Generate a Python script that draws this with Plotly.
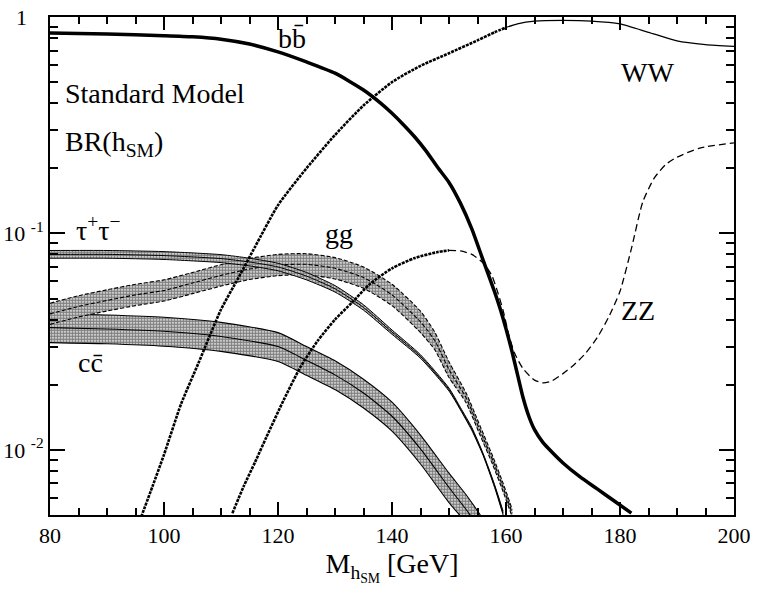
import plotly.graph_objects as go

# ---------------- data ----------------
M_bb = [80, 90, 100, 105, 110, 115, 120, 125, 130, 135, 138, 140, 142, 144, 146, 148, 150, 152, 154, 156,
        158, 159, 160, 161, 162, 163, 164, 165, 166.5, 168, 170, 173, 176, 179, 182]
BR_bb = [0.843, 0.835, 0.82, 0.81, 0.79, 0.75, 0.69, 0.62, 0.55, 0.46, 0.40, 0.359, 0.318, 0.279, 0.24,
         0.202, 0.172, 0.138, 0.105, 0.075, 0.0537, 0.0447, 0.0363, 0.0288, 0.0224, 0.0174, 0.0143, 0.0124,
         0.0108, 0.0098, 0.0087, 0.0075, 0.0066, 0.0058, 0.0051]

M_tau = [80, 90, 100, 110, 115, 120, 125, 130, 135, 140, 145, 150, 152, 154, 156, 158, 159.5]
BR_tau = [0.080, 0.0800, 0.0790, 0.0765, 0.0738, 0.070, 0.0635, 0.0555, 0.0455, 0.035, 0.027, 0.019, 0.0155,
          0.0125, 0.0095, 0.0068, 0.0051]
BR_tau_hi = [0.0834, 0.0834, 0.0824, 0.0798, 0.0768, 0.0728, 0.066, 0.0574, 0.0468, 0.0358, 0.0275, 0.0193,
             0.0157, 0.0127, 0.0096, 0.0069, 0.0052]
BR_tau_lo = [0.0768, 0.0768, 0.0758, 0.0733, 0.0708, 0.0672, 0.061, 0.0536, 0.0442, 0.0342, 0.0265, 0.0187,
             0.0153, 0.0123, 0.0094, 0.0067, 0.0050]

M_cc = [80, 90, 100, 110, 120, 125, 130, 135, 140, 145, 150, 153, 155.5]
BR_cc_hi = [0.0426, 0.042, 0.041, 0.0388, 0.0348, 0.0300, 0.0258, 0.0212, 0.0166, 0.0117, 0.0078, 0.0062, 0.0050]
BR_cc = [0.0367, 0.0362, 0.0353, 0.0334, 0.0300, 0.0259, 0.0222, 0.0183, 0.0143, 0.0101, 0.0067, 0.0053, 0.0043]
BR_cc_lo = [0.0313, 0.0309, 0.0301, 0.0285, 0.0256, 0.0221, 0.0190, 0.0156, 0.0122, 0.0086, 0.0057, 0.0046, 0.0037]

M_gg = [80, 85, 90, 95, 100, 105, 110, 115, 120, 125, 130, 135, 140, 145, 147.5, 150, 153, 155.5, 157.7,
        159.5, 161.1]
BR_gg = [0.0425, 0.046, 0.049, 0.052, 0.0545, 0.059, 0.064, 0.0685, 0.0715, 0.072, 0.069, 0.0625, 0.052,
         0.039, 0.032, 0.0235, 0.0174, 0.0122, 0.0089, 0.0067, 0.0051]
BR_gg_hi = [0.0476, 0.0515, 0.0549, 0.0582, 0.061, 0.066, 0.0717, 0.0767, 0.080, 0.0806, 0.0773, 0.070,
            0.0582, 0.0437, 0.035, 0.0255, 0.0183, 0.0128, 0.0093, 0.0070, 0.0053]
BR_gg_lo = [0.038, 0.0411, 0.0438, 0.0464, 0.0487, 0.0527, 0.0571, 0.0612, 0.0638, 0.0643, 0.0616, 0.0558,
            0.0464, 0.0348, 0.029, 0.0216, 0.0165, 0.0116, 0.0085, 0.0064, 0.0049]

M_ww = [96, 98, 100, 103, 106, 110, 113, 116, 120, 125, 130, 135, 140, 145, 150, 155, 158, 160,
        162, 165, 170, 175, 180, 185, 190, 195, 200]
BR_ww = [0.0049, 0.0068, 0.0095, 0.0163, 0.025, 0.0445, 0.062, 0.087, 0.135, 0.20, 0.285, 0.39, 0.50,
         0.595, 0.68, 0.78, 0.85, 0.895, 0.93, 0.958, 0.965, 0.958, 0.93, 0.85, 0.775, 0.745, 0.732]

M_zz = [112, 114, 116, 118, 121, 124, 127, 130, 133, 136, 140, 144, 148, 150, 152, 154, 156, 157.5,
        158.5, 159.5, 160.5, 161.5, 163, 165, 166.5, 168, 170, 172, 174, 176, 178, 180, 182, 184, 186,
        188, 190, 194, 200]
BR_zz = [0.0051, 0.0068, 0.0088, 0.0115, 0.017, 0.0243, 0.032, 0.040, 0.048, 0.058, 0.069, 0.077, 0.082,
         0.0835, 0.083, 0.080, 0.073, 0.064, 0.054, 0.044, 0.034, 0.028, 0.0237, 0.021, 0.0204, 0.0208,
         0.0225, 0.0248, 0.028, 0.033, 0.041, 0.054, 0.085, 0.14, 0.18, 0.208, 0.225, 0.248, 0.262]

x_ticks = [80, 100, 120, 140, 160, 180, 200]
x_minor = [85, 90, 95, 105, 110, 115, 125, 130, 135, 145, 150, 155, 165, 170, 175, 185, 190, 195]
y_ticks = [0.01, 0.1, 1]
y_ticktext = ["10 <sup>-2</sup>", "10 <sup>-1</sup>", "1\u00a0\u00a0\u00a0"]
y_minor = [0.005, 0.006, 0.007, 0.008, 0.009, 0.02, 0.03, 0.04, 0.05, 0.06, 0.07, 0.08, 0.09,
           0.2, 0.3, 0.4, 0.5, 0.6, 0.7, 0.8, 0.9]

labels = [
    ("Standard Model", 0.019, 0.847, "left"),
    ("BR(h<sub>SM</sub>)", 0.019, 0.746, "left"),
    ("bb\u0304", 0.3545, 0.957, "center"),
    ("\u03c4<sup>+</sup>\u03c4<sup>\u2212</sup>", 0.0709, 0.576, "center"),
    ("cc\u0304", 0.0592, 0.306, "center"),
    ("gg", 0.4225, 0.565, "center"),
    ("WW", 0.8735, 0.8886, "center"),
    ("ZZ", 0.859, 0.4116, "center"),
]

# ---------------- figure ----------------
FONT = "Liberation Serif, Times New Roman, serif"
fig = go.Figure()

PATTERN = dict(shape=".", fgcolor="black", bgcolor="white", size=3, solidity=0.75)
SPL = dict(shape="spline", smoothing=0.6)


def band(x, lo, hi, dash, mid=None, width=1.1):
    xs = list(x) + list(x)[::-1]
    ys = list(hi) + list(lo)[::-1]
    fig.add_trace(go.Scatter(x=xs, y=ys, mode="lines", fill="toself", fillcolor="#8c8c8c",
                             fillpattern=PATTERN, line=dict(width=0, **SPL), hoverinfo="skip",
                             showlegend=False))
    for y in (lo, hi) + ((mid,) if mid is not None else ()):
        fig.add_trace(go.Scatter(x=x, y=y, mode="lines",
                                 line=dict(color="black", width=width, dash=dash, **SPL),
                                 hoverinfo="skip", showlegend=False))


band(M_cc, BR_cc_lo, BR_cc_hi, "solid", BR_cc)
band(M_gg, BR_gg_lo, BR_gg_hi, "4px,2px", BR_gg)
band(M_tau, BR_tau_lo, BR_tau_hi, "solid", BR_tau, width=1.0)

# bb: thick line
fig.add_trace(go.Scatter(x=M_bb, y=BR_bb, mode="lines", line=dict(color="black", width=3.5, **SPL),
                         hoverinfo="skip", showlegend=False))

ROPE = dict(color="black", width=2.6, dash="3px,1px", **SPL)
# WW: textured part up to threshold, then thin solid
i_ww = M_ww.index(160)
fig.add_trace(go.Scatter(x=M_ww[:i_ww + 1], y=BR_ww[:i_ww + 1], mode="lines",
                         line=ROPE, hoverinfo="skip", showlegend=False))
fig.add_trace(go.Scatter(x=M_ww[i_ww:], y=BR_ww[i_ww:], mode="lines",
                         line=dict(color="black", width=1.3, **SPL), hoverinfo="skip", showlegend=False))

# ZZ: textured part then dashed
i_zz = M_zz.index(150)
fig.add_trace(go.Scatter(x=M_zz[:i_zz + 1], y=BR_zz[:i_zz + 1], mode="lines",
                         line=ROPE, hoverinfo="skip", showlegend=False))
fig.add_trace(go.Scatter(x=M_zz[i_zz:], y=BR_zz[i_zz:], mode="lines",
                         line=dict(color="black", width=1.3, dash="7px,4px", **SPL),
                         hoverinfo="skip", showlegend=False))

for text, px, py, anchor in labels:
    fig.add_annotation(text=text, x=px, y=py, xref="paper", yref="paper", xanchor=anchor, yanchor="middle",
                       showarrow=False, font=dict(family=FONT, size=28, color="black"))

fig.update_layout(
    width=763, height=597, margin=dict(l=50, r=29, t=17, b=82, autoexpand=False),
    paper_bgcolor="white", plot_bgcolor="white", showlegend=False,
    font=dict(family=FONT, color="black"),
    xaxis=dict(range=[80, 200], tickvals=x_ticks, ticktext=[str(v) for v in x_ticks],
               ticks="inside", ticklen=13, tickwidth=2, tickcolor="black",
               showline=True, linewidth=2, linecolor="black", mirror="allticks",
               showgrid=False, zeroline=False,
               minor=dict(tickvals=x_minor, ticks="inside", ticklen=7, tickwidth=1.6, tickcolor="black"),
               tickfont=dict(family=FONT, size=22, color="black"),
               title=dict(text="M<sub>h<sub>SM</sub></sub> [GeV]",
                          font=dict(family=FONT, size=28, color="black"), standoff=4)),
    yaxis=dict(type="log", range=[-2.30103, 0], tickvals=y_ticks, ticktext=y_ticktext,
               ticks="inside", ticklen=15, tickwidth=2, tickcolor="black",
               showline=True, linewidth=2, linecolor="black", mirror="allticks",
               showgrid=False, zeroline=False,
               minor=dict(tickvals=y_minor, ticks="inside", ticklen=8, tickwidth=1.6, tickcolor="black"),
               tickfont=dict(family=FONT, size=22, color="black")),
)

fig.write_html("out.html", config={"displayModeBar": False},
               post_script="document.body.style.margin='0px';")
